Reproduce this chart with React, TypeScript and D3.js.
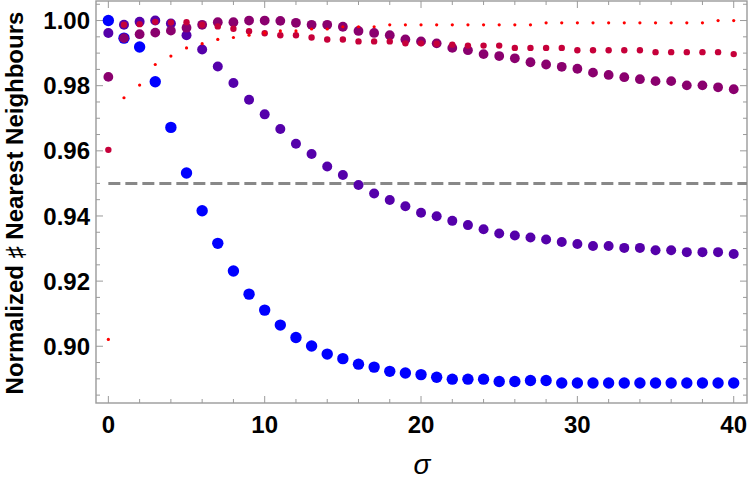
import React, { useEffect, useRef } from "react";
import * as d3 from "d3";

const sigmas = [0, 1, 2, 3, 4, 5, 6, 7, 8, 9, 10, 11, 12, 13, 14, 15, 16, 17, 18, 19, 20,
  21, 22, 23, 24, 25, 26, 27, 28, 29, 30, 31, 32, 33, 34, 35, 36, 37, 38, 39, 40];

const blueVals = [1.0, 0.9946, 0.9919, 0.9812, 0.9672, 0.9532, 0.9416, 0.9316, 0.9231, 0.916,
  0.9111, 0.9065, 0.9027, 0.9001, 0.8976, 0.8962, 0.8945, 0.8936, 0.8923, 0.8918,
  0.8913, 0.8905, 0.8899, 0.8899, 0.8899, 0.8892, 0.8892, 0.8895, 0.8895, 0.8887,
  0.8887, 0.8887, 0.8887, 0.8887, 0.8887, 0.8887, 0.8887, 0.8887, 0.8887, 0.8887, 0.8887];

const purpleVals = [0.9962, 0.9987, 0.9996, 1.0, 0.9991, 0.9955, 0.9911, 0.9859, 0.9808, 0.9757,
  0.9712, 0.9667, 0.9622, 0.959, 0.9552, 0.9526, 0.9495, 0.9469, 0.9449, 0.943,
  0.941, 0.9399, 0.9385, 0.9372, 0.9359, 0.9346, 0.934, 0.9334, 0.9328, 0.932,
  0.9314, 0.9308, 0.9308, 0.9302, 0.9302, 0.9295, 0.9295, 0.9289, 0.9289, 0.9289, 0.9283];

const magentaVals = [0.9827, 0.9946, 0.9958, 0.9963, 0.9969, 0.9978, 0.9987, 0.9995, 0.9995, 1.0,
  1.0, 0.9999, 0.9993, 0.9987, 0.9987, 0.9981, 0.9968, 0.9962, 0.9955, 0.9942,
  0.9936, 0.993, 0.9916, 0.9909, 0.9897, 0.9891, 0.9884, 0.9872, 0.9865, 0.9858,
  0.9852, 0.984, 0.9833, 0.9826, 0.982, 0.9814, 0.9814, 0.9801, 0.9801, 0.9795, 0.9789];

const crimsonVals = [0.9603, 0.9987, 0.9989, 0.9996, 0.9994, 0.9995, 0.9987, 0.9982, 0.9975, 0.9967,
  0.9961, 0.9955, 0.9955, 0.9948, 0.9942, 0.9942, 0.9936, 0.9936, 0.9936, 0.993,
  0.993, 0.9929, 0.9926, 0.9923, 0.9923, 0.9923, 0.9916, 0.9916, 0.9916, 0.9916,
  0.9909, 0.9909, 0.9909, 0.9909, 0.9909, 0.9903, 0.9903, 0.9903, 0.9903, 0.9903, 0.9897];

const redVals = [0.9021, 0.9763, 0.9802, 0.9865, 0.9891, 0.9916, 0.9929, 0.9942, 0.9948, 0.9955,
  0.9962, 0.9968, 0.9968, 0.9974, 0.9974, 0.9981, 0.9981, 0.9981, 0.9987, 0.9987,
  0.9987, 0.9987, 0.9987, 0.9987, 0.9987, 0.9987, 0.9987, 0.9987, 0.9993, 0.9993,
  0.9993, 0.9993, 0.9993, 0.9993, 0.9993, 0.9993, 0.9993, 0.9993, 0.9993, 1.0, 1.0];

const xTicks = [0, 10, 20, 30, 40];
const yTicks = [0.9, 0.92, 0.94, 0.96, 0.98, 1.0];
const threshold = 0.95;

// drawn back to front: big blue first, tiny red last
const series = [
  { name: "blue", values: blueVals, color: "#0000ff", r: 5.7 },
  { name: "purple", values: purpleVals, color: "#5500aa", r: 5.0 },
  { name: "magenta", values: magentaVals, color: "#8a006e", r: 4.9 },
  { name: "crimson", values: crimsonVals, color: "#c6003a", r: 3.2 },
  { name: "red", values: redVals, color: "#ff0000", r: 1.6 },
];

const W = 750;
const H = 484;
const margin = { top: 1, right: 3, bottom: 81, left: 96 };

export default function App() {
  const ref = useRef<SVGSVGElement>(null);

  useEffect(() => {
    const svg = d3.select(ref.current);
    svg.selectAll("*").remove();

    const x = d3.scaleLinear()
      .domain([-0.79, 40.85])
      .range([margin.left, W - margin.right]);
    const y = d3.scaleLinear()
      .domain([0.88258, 1.006])
      .range([H - margin.bottom, margin.top]);

    const frameColor = "#9a9a9a";
    const font = "'Liberation Sans', Arial, sans-serif";
    const x0 = margin.left, x1 = W - margin.right;
    const y0 = H - margin.bottom, y1 = margin.top;

    const ticks = svg.append("g")
      .attr("stroke", frameColor)
      .attr("stroke-width", 1);

    // x ticks every 2, majors every 10, on bottom and top
    d3.range(0, 41, 2).forEach(v => {
      const len = v % 10 === 0 ? 7 : 4;
      ticks.append("line").attr("x1", x(v)).attr("x2", x(v)).attr("y1", y0).attr("y2", y0 - len);
      ticks.append("line").attr("x1", x(v)).attr("x2", x(v)).attr("y1", y1).attr("y2", y1 + len);
    });
    // y ticks every 0.005, majors every 0.02, on left and right
    d3.range(0.885, 1.0051, 0.005).forEach(v => {
      const major = Math.abs(Math.round(v * 50) - v * 50) < 1e-6;
      const len = major ? 7 : 4;
      ticks.append("line").attr("y1", y(v)).attr("y2", y(v)).attr("x1", x0).attr("x2", x0 + len);
      ticks.append("line").attr("y1", y(v)).attr("y2", y(v)).attr("x1", x1).attr("x2", x1 - len);
    });

    svg.append("rect")
      .attr("x", x0)
      .attr("y", y1)
      .attr("width", x1 - x0)
      .attr("height", y0 - y1)
      .attr("fill", "none")
      .attr("stroke", frameColor)
      .attr("stroke-width", 1.4);

    svg.append("g").selectAll("text")
      .data(xTicks)
      .enter().append("text")
      .attr("x", d => x(d))
      .attr("y", 433)
      .attr("text-anchor", "middle")
      .style("font-family", font)
      .style("font-weight", "bold")
      .style("font-size", "24px")
      .text(d => String(d));

    svg.append("g").selectAll("text")
      .data(yTicks)
      .enter().append("text")
      .attr("x", 90)
      .attr("y", d => y(d))
      .attr("dy", "0.36em")
      .attr("text-anchor", "end")
      .style("font-family", font)
      .style("font-weight", "bold")
      .style("font-size", "24px")
      .text(d => d3.format(".2f")(d));

    svg.append("text")
      .attr("transform", "translate(23," + 203 + ") rotate(-90)")
      .attr("text-anchor", "middle")
      .style("font-family", font)
      .style("font-weight", "bold")
      .style("font-size", "24px")
      .text("Normalized \u266F Nearest Neighbours");

    svg.append("text")
      .attr("x", 422)
      .attr("y", 474)
      .attr("text-anchor", "middle")
      .style("font-family", font)
      .style("font-style", "italic")
      .style("font-size", "28px")
      .text("\u03C3");

    // threshold line sits behind the points
    svg.append("line")
      .attr("x1", x(0))
      .attr("x2", x1)
      .attr("y1", y(threshold))
      .attr("y2", y(threshold))
      .attr("stroke", "#888888")
      .attr("stroke-width", 3)
      .attr("stroke-dasharray", "12,5");

    series.forEach(s => {
      svg.append("g").selectAll("circle")
        .data(s.values)
        .enter().append("circle")
        .attr("cx", (d, i) => x(sigmas[i]))
        .attr("cy", d => y(d))
        .attr("r", s.r)
        .attr("fill", s.color);
    });
  }, []);

  return (
    <div style={{ position: "absolute", left: 0, top: 0 }}>
      <svg ref={ref} width={W} height={H} style={{ display: "block", background: "#fff" }} />
    </div>
  );
}
